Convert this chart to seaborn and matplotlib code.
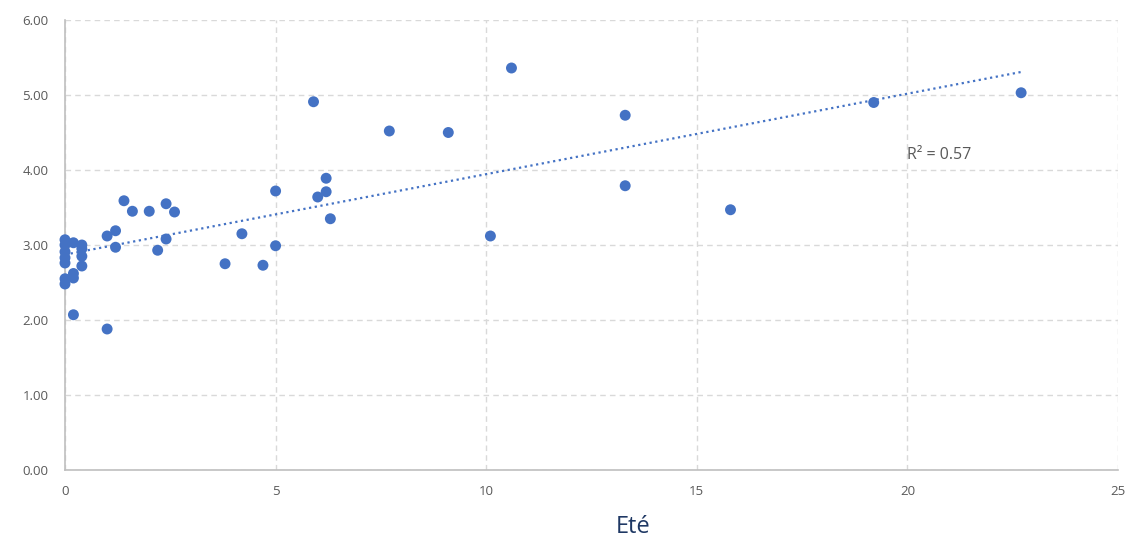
import numpy as np
import pandas as pd
import matplotlib
matplotlib.use("Agg")
import matplotlib.pyplot as plt
import seaborn as sns

ete = [0, 0, 0, 0, 0, 0, 0, 0.2, 0.2, 0.2, 0.2, 0.4, 0.4, 0.4, 0.4,
       1.0, 1.0, 1.2, 1.2, 1.4, 1.6, 2.0, 2.2, 2.4, 2.4, 2.6,
       3.8, 4.2, 4.7, 5.0, 5.0, 5.9, 6.0, 6.2, 6.2, 6.3,
       7.7, 9.1, 10.1, 10.6, 13.3, 13.3, 15.8, 19.2, 22.7]
valeur = [3.07, 3.00, 2.91, 2.83, 2.76, 2.55, 2.48, 3.03, 2.62, 2.56, 2.07, 3.00, 2.95, 2.85, 2.72,
          3.12, 1.88, 3.19, 2.97, 3.59, 3.45, 3.45, 2.93, 3.55, 3.08, 3.44,
          2.75, 3.15, 2.73, 3.72, 2.99, 4.91, 3.64, 3.89, 3.71, 3.35,
          4.52, 4.50, 3.12, 5.36, 4.73, 3.79, 3.47, 4.90, 5.03]
x_ticks = [0, 5, 10, 15, 20, 25]
y_ticks = [0, 1, 2, 3, 4, 5, 6]
r2_label = "R² = 0.57"
x_label = "Eté"

df = pd.DataFrame({"ete": ete, "val": valeur})

sns.set_style("white")
plt.rcParams['font.family'] = ['Open Sans', 'DejaVu Sans']

fig = plt.figure(figsize=(11.32, 5.41), dpi=100)
ax = fig.add_axes([65/1132, 1-470/541, (1118-65)/1132, (470-20)/541])

blue = "#4472C4"
sns.regplot(data=df, x="ete", y="val", ax=ax, ci=None, truncate=True,
            scatter_kws=dict(s=62, color=blue, edgecolor="none", zorder=3, alpha=1, clip_on=False),
            line_kws=dict(color=blue, linestyle=(0, (1, 1.6)), linewidth=1.6, zorder=4))

ax.set_xlim(0, 25)
ax.set_ylim(0, 6)
ax.set_xticks(x_ticks)
ax.set_yticks(y_ticks)
ax.set_xticklabels([str(t) for t in x_ticks])
ax.set_yticklabels([f"{t:.2f}" for t in y_ticks])
ax.tick_params(axis="y", labelsize=9.5, colors="#595959", length=0, pad=12)
ax.tick_params(axis="x", labelsize=9.5, colors="#595959", length=0, pad=11)
ax.grid(True, color="#D9D9D9", linestyle=(0, (4, 3)), linewidth=1)
ax.set_axisbelow(True)
for s in ["top", "right"]:
    ax.spines[s].set_visible(False)
for s in ["left", "bottom"]:
    ax.spines[s].set_color("#BFBFBF")
    ax.spines[s].set_linewidth(1.2)
ax.set_xlabel("")
ax.set_ylabel("")

ax.text(20.0, 4.2, r2_label, fontsize=11.5, color="#595959", va="center", ha="left")
fig.text(633/1132, 1-527/541, x_label, fontsize=17, color="#1F3864", ha="center", va="center")

fig.savefig("out.png", dpi=100)
